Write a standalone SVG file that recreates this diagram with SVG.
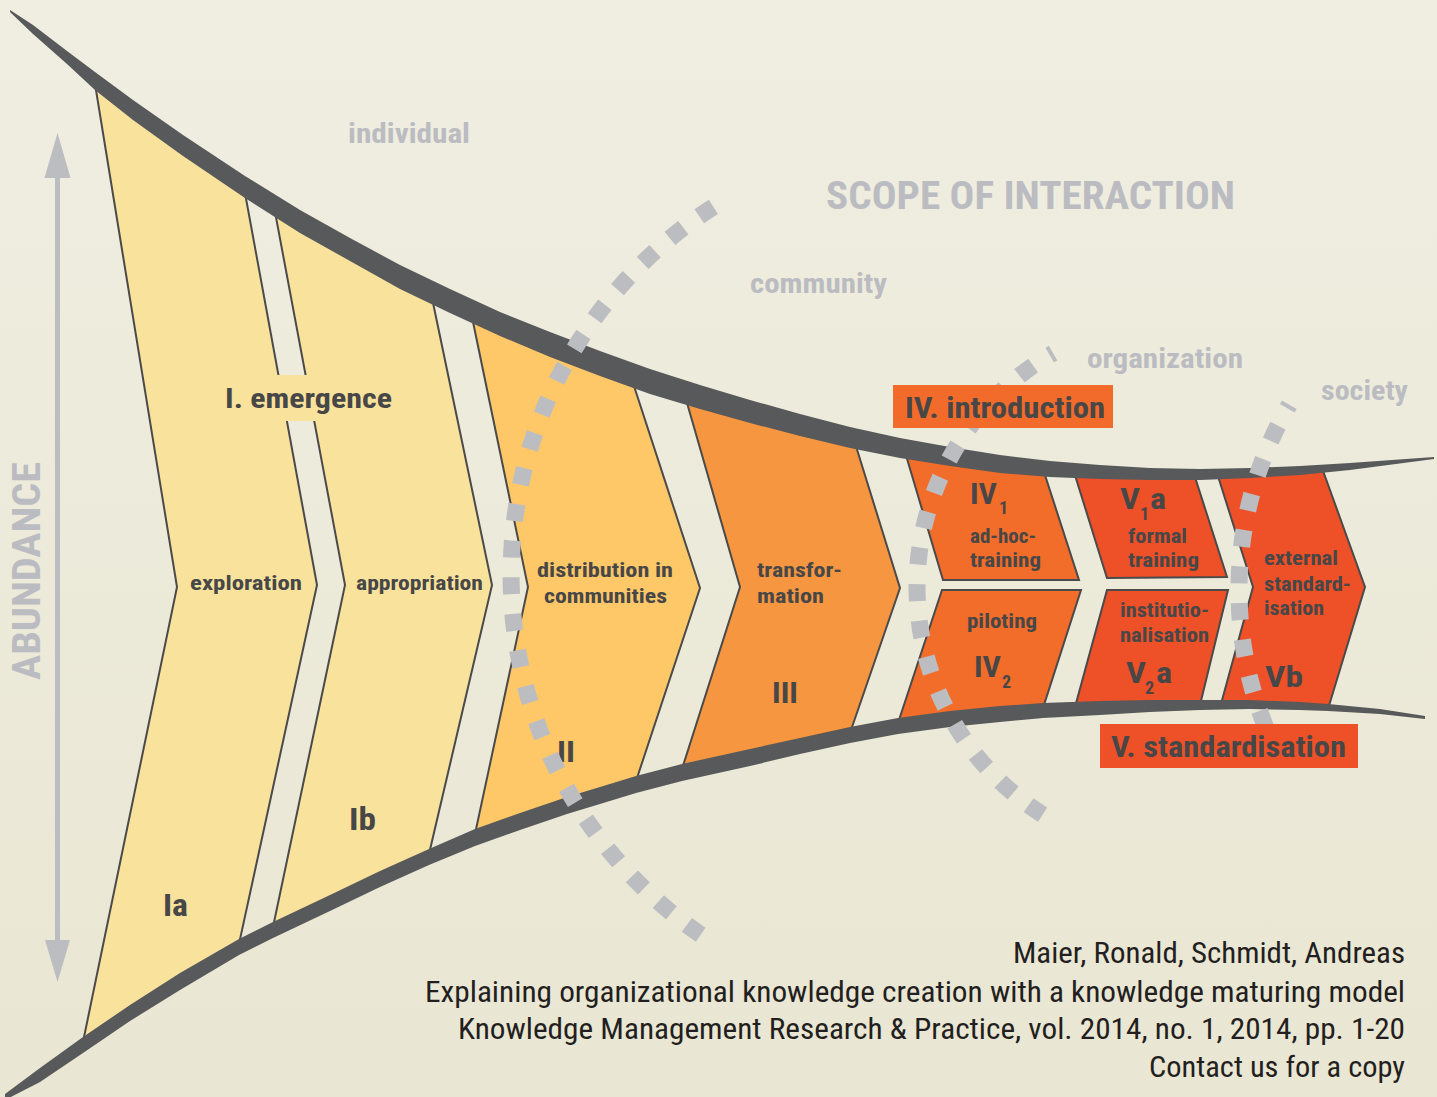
<svg xmlns="http://www.w3.org/2000/svg" width="1437" height="1097" viewBox="0 0 1437 1097">
<defs>
<linearGradient id="bg" x1="0" y1="0" x2="0" y2="1">
<stop offset="0" stop-color="#F0EEE1"/>
<stop offset="1" stop-color="#E9E6D3"/>
</linearGradient>
<style>
text{font-family:"Liberation Sans Narrow","Roboto Condensed","DejaVu Sans Condensed",Roboto,"Liberation Sans",sans-serif}
.chev{stroke:#4A4A4A;stroke-width:2;stroke-linejoin:miter}
.y1{fill:#F9E29C}.y2{fill:#FEC868}.o3{fill:#F69640}.o4{fill:#F26C2A}.r5{fill:#EE5028}
.band{fill:#58595B}
.arc{fill:none;stroke:#BCBDC1;stroke-width:17;stroke-dasharray:17 19.7}
.g{fill:#BBBCC1;font-weight:bold}
.d{fill:#474747;font-weight:bold}
.c{fill:#231F20;font-weight:normal}
.axis{fill:#BCBDC1}
</style>
</defs>
<rect width="1437" height="1097" fill="url(#bg)"/>

<g id="abundance-axis">
<rect x="55" y="172" width="5" height="772" class="axis"/>
<polygon points="57.5,133 44.5,178 70.5,178" class="axis"/>
<polygon points="57.5,982 45,940 70,940" class="axis"/>
<text transform="translate(40,680) rotate(-90)" class="g" font-size="39" textLength="218" lengthAdjust="spacingAndGlyphs">ABUNDANCE</text>
</g>

<g id="node-Ia">
<polygon class="chev y1" points="95,84 245,193 317,585 239,944 83,1042 177,587"/>
<text x="190" y="590" class="d" font-size="21" textLength="112" lengthAdjust="spacingAndGlyphs">exploration</text>
<text x="163" y="916" class="d" font-size="31" textLength="25" lengthAdjust="spacingAndGlyphs">Ia</text>
</g>
<g id="node-Ib">
<polygon class="chev y1" points="275,212 432,298 492,585 429,854 273,927 345,585"/>
<text x="356" y="590" class="d" font-size="21" textLength="127" lengthAdjust="spacingAndGlyphs">appropriation</text>
<text x="349" y="830" class="d" font-size="31" textLength="27" lengthAdjust="spacingAndGlyphs">Ib</text>
</g>
<g id="node-II">
<polygon class="chev y2" points="472,317 632,380 700,588 636,781 475,834 528,587"/>
<text x="537" y="577" class="d" font-size="21" textLength="136" lengthAdjust="spacingAndGlyphs">distribution in</text>
<text x="544" y="603" class="d" font-size="21" textLength="123" lengthAdjust="spacingAndGlyphs">communities</text>
<text x="557" y="762" class="d" font-size="30" textLength="18" lengthAdjust="spacingAndGlyphs">II</text>
</g>
<g id="node-III">
<polygon class="chev o3" points="685,396 855,443 900,588 850,733 682,769 740,587"/>
<text x="757" y="577" class="d" font-size="21" textLength="85" lengthAdjust="spacingAndGlyphs">transfor-</text>
<text x="757" y="603" class="d" font-size="21" textLength="67" lengthAdjust="spacingAndGlyphs">mation</text>
<text x="772" y="703" class="d" font-size="30" textLength="26" lengthAdjust="spacingAndGlyphs">III</text>
</g>
<g id="node-IV1">
<polygon class="chev o4" points="905,452 1043,469 1079,580 943,580"/>
<text x="970" y="504" class="d" font-size="30" textLength="27" lengthAdjust="spacingAndGlyphs">IV</text>
<text x="999" y="514" class="d" font-size="18">1</text>
<text x="970" y="543" class="d" font-size="21" textLength="66" lengthAdjust="spacingAndGlyphs">ad-hoc-</text>
<text x="970" y="567" class="d" font-size="21" textLength="71" lengthAdjust="spacingAndGlyphs">training</text>
</g>
<g id="node-IV2">
<polygon class="chev o4" points="942,590 1081,590 1043,708 898,723"/>
<text x="967" y="628" class="d" font-size="21" textLength="70" lengthAdjust="spacingAndGlyphs">piloting</text>
<text x="974" y="677" class="d" font-size="30" textLength="27" lengthAdjust="spacingAndGlyphs">IV</text>
<text x="1002" y="688" class="d" font-size="18">2</text>
</g>
<g id="node-V1a">
<polygon class="chev r5" points="1074,472 1194,474 1227,577 1107,578"/>
<text x="1120" y="509" class="d" font-size="30" textLength="20" lengthAdjust="spacingAndGlyphs">V</text>
<text x="1140" y="520" class="d" font-size="18">1</text>
<text x="1150" y="509" class="d" font-size="30" textLength="16" lengthAdjust="spacingAndGlyphs">a</text>
<text x="1128" y="543" class="d" font-size="21" textLength="59" lengthAdjust="spacingAndGlyphs">formal</text>
<text x="1128" y="567" class="d" font-size="21" textLength="71" lengthAdjust="spacingAndGlyphs">training</text>
</g>
<g id="node-V2a">
<polygon class="chev r5" points="1107,590 1228,590 1200,705 1075,707"/>
<text x="1120" y="617" class="d" font-size="21" textLength="89" lengthAdjust="spacingAndGlyphs">institutio-</text>
<text x="1120" y="642" class="d" font-size="21" textLength="89" lengthAdjust="spacingAndGlyphs">nalisation</text>
<text x="1126" y="683" class="d" font-size="30" textLength="20" lengthAdjust="spacingAndGlyphs">V</text>
<text x="1145" y="694" class="d" font-size="18">2</text>
<text x="1156" y="683" class="d" font-size="30" textLength="16" lengthAdjust="spacingAndGlyphs">a</text>
</g>
<g id="node-Vb">
<polygon class="chev r5" points="1217,473 1322,468 1365,587 1328,709 1221,704 1253,587"/>
<text x="1264" y="565" class="d" font-size="21" textLength="74" lengthAdjust="spacingAndGlyphs">external</text>
<text x="1264" y="591" class="d" font-size="21" textLength="87" lengthAdjust="spacingAndGlyphs">standard-</text>
<text x="1264" y="615" class="d" font-size="21" textLength="60" lengthAdjust="spacingAndGlyphs">isation</text>
<text x="1265" y="687" class="d" font-size="30" textLength="38" lengthAdjust="spacingAndGlyphs">Vb</text>
</g>

<g id="bands">
<polygon class="band" points="10,10 33,25 67,51 95,72 133,100 183,135 245,176 300,210 350,238 400,265 450,289 500,312 550,332 600,351 650,369 700,385 750,400 800,414 850,427 900,438 950,447 1000,455 1050,461 1100,465 1150,468 1200,469 1250,468 1300,466 1350,463 1434,457 1434,459 1350,470 1300,475 1250,478 1200,480 1150,480 1100,479 1050,477 1000,473 950,466 900,458 850,448 800,436 750,423 700,409 650,394 600,376 550,357 500,336 450,313 400,289 350,261 300,233 245,198 183,156 133,120 95,90 67,64 33,34 10,12"/>
<polygon class="band" points="5,1094 40,1068 83,1037 130,1005 180,973 239,939 273,922 330,895 380,871 429,849 475,829 520,813 567,797 600,787 636,776 682,764 750,749 800,738 850,727 898,718 950,711 1000,706 1043,703 1100,701 1150,700 1200,700 1250,700 1300,702 1328,704 1380,709 1425,716 1425,719 1380,714 1328,711 1300,710 1250,709 1200,710 1150,712 1100,715 1043,718 1000,722 950,727 898,734 850,743 800,754 750,766 682,781 636,793 600,804 567,814 520,830 475,846 429,865 380,887 330,911 273,938 239,955 180,990 130,1021 83,1053 40,1082 5,1100"/>
</g>

<g id="scope-arcs">
<path class="arc" d="M713.4 206.9 A436 436 0 0 0 700.7 934.7"/>
<path class="arc" style="stroke-dashoffset:13" d="M1053.1 353.1 A269 269 0 0 0 1046.1 816.7"/>
<path class="arc" style="stroke-dashoffset:13" d="M1289.3 404.8 A366 366 0 0 0 1278.9 756.2"/>
</g>

<g id="scope-labels">
<text x="348" y="143" class="g" font-size="28" textLength="122" lengthAdjust="spacingAndGlyphs">individual</text>
<text x="826" y="209" class="g" font-size="38" textLength="409" lengthAdjust="spacingAndGlyphs">SCOPE OF INTERACTION</text>
<text x="750" y="293" class="g" font-size="28" textLength="137" lengthAdjust="spacingAndGlyphs">community</text>
<text x="1087" y="368" class="g" font-size="28" textLength="156" lengthAdjust="spacingAndGlyphs">organization</text>
<text x="1321" y="400" class="g" font-size="28" textLength="87" lengthAdjust="spacingAndGlyphs">society</text>
</g>

<g id="phase-I">
<rect x="262" y="375" width="60" height="46" fill="#F9E29C"/>
<text x="225" y="408" class="d" font-size="28" textLength="167" lengthAdjust="spacingAndGlyphs">I. emergence</text>
</g>
<g id="phase-IV">
<rect x="893" y="385" width="220" height="43" fill="#F26B2A"/>
<text x="905" y="418" class="d" font-size="29" textLength="200" lengthAdjust="spacingAndGlyphs">IV. introduction</text>
</g>
<g id="phase-V">
<rect x="1100" y="724" width="258" height="44" fill="#EE5127"/>
<text x="1111" y="757" class="d" font-size="29" textLength="235" lengthAdjust="spacingAndGlyphs">V. standardisation</text>
</g>

<g id="citation">
<text x="1405" y="963" text-anchor="end" class="c" font-size="29" textLength="392" lengthAdjust="spacingAndGlyphs">Maier, Ronald, Schmidt, Andreas</text>
<text x="1405" y="1002" text-anchor="end" class="c" font-size="29" textLength="980" lengthAdjust="spacingAndGlyphs">Explaining organizational knowledge creation with a knowledge maturing model</text>
<text x="1405" y="1039" text-anchor="end" class="c" font-size="29" textLength="947" lengthAdjust="spacingAndGlyphs">Knowledge Management Research &amp; Practice, vol. 2014, no. 1, 2014, pp. 1-20</text>
<text x="1405" y="1077" text-anchor="end" class="c" font-size="29" textLength="256" lengthAdjust="spacingAndGlyphs">Contact us for a copy</text>
</g>
</svg>
